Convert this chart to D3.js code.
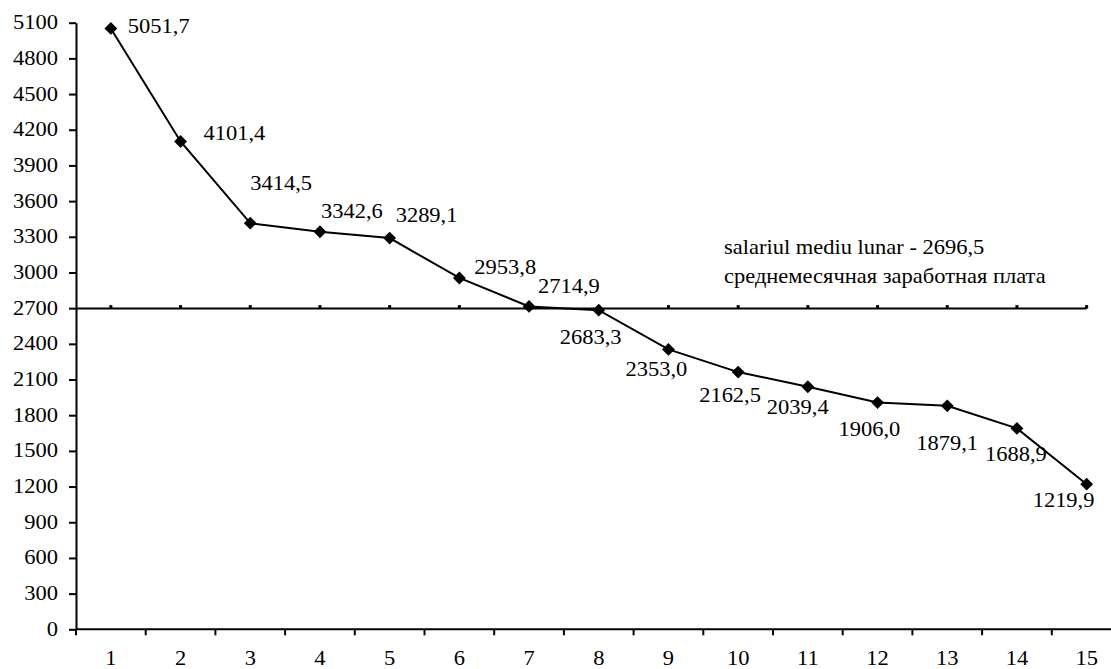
<!DOCTYPE html>
<html><head><meta charset="utf-8">
<script src="https://cdn.jsdelivr.net/npm/d3@7/dist/d3.min.js"></script>
<style>
html,body{margin:0;padding:0;background:#fff;}
</style></head>
<body><svg id="c" width="1111" height="669"></svg>
<script>
const categories = [1,2,3,4,5,6,7,8,9,10,11,12,13,14,15];
const values = [5051.7,4101.4,3414.5,3342.6,3289.1,2953.8,2714.9,2683.3,2353.0,2162.5,2039.4,1906.0,1879.1,1688.9,1219.9];
const yTicks = [0,300,600,900,1200,1500,1800,2100,2400,2700,3000,3300,3600,3900,4200,4500,4800,5100];
const averageValue = 2696.5;
const averageLabels = ["salariul mediu lunar - 2696,5", "среднемесячная заработная плата"];
// label offsets (dx, dy) from each marker to its value label
const labelOffsets = [[17,5],[23,-1.5],[0,-33],[1,-13.5],[6,-16.5],[15,-4],[9,-13],[-39,34],[-43,27],[-39,29.5],[-41,27.5],[-39,33.5],[-31,44],[-32,33],[-54,22.5]];

(function(){
const fmt = v => v.toFixed(1).replace('.', ',');
const FS = 20;
const FONT = "Liberation Serif, Tinos, Times New Roman, Times, Nimbus Roman, Nimbus Roman No9 L, FreeSerif, DejaVu Serif, Noto Serif, serif";
const svg = d3.select('#c');
// horizontal stretch so the text widths match the reference
const probe = svg.append('text').style('font-family', FONT).attr('font-size', FS).text('3000');
const SX = 45 / probe.node().getComputedTextLength();
probe.remove();

const mLeft = 76, yBottom = 629.3, yTop = 22.7;
const x = d3.scaleBand().domain(categories).range([mLeft, 1121.5]);
const y = d3.scaleLinear().domain([0,5100]).range([yBottom, yTop]);
const cx = d => x(d) + x.bandwidth()/2;

function txt(g, s, px, py, anchor){
  return g.append('text').attr('transform', `translate(${px},${py}) scale(${SX},1)`)
    .attr('text-anchor', anchor).attr('font-size', FS).style('font-family', FONT)
    .attr('fill', '#000').text(s);
}

// y axis
const ya = svg.append('g').attr('transform', `translate(${mLeft},0)`)
  .call(d3.axisLeft(y).tickValues(yTicks).tickSize(7).tickSizeOuter(0).tickFormat(''));
ya.selectAll('path,line').attr('stroke','#000').attr('stroke-width',2);
yTicks.forEach(t => txt(svg, String(t), 58, y(t)+6.5, 'end'));

// x axis
const xa = svg.append('g').attr('transform', `translate(0,${yBottom})`);
xa.append('line').attr('x1', mLeft).attr('x2', 1121.5).attr('y1',0).attr('y2',0).attr('stroke','#000').attr('stroke-width',2);
d3.range(categories.length+1).forEach(i => {
  const px = mLeft + i * x.step();
  xa.append('line').attr('x1',px).attr('x2',px).attr('y1',0).attr('y2',6).attr('stroke','#000').attr('stroke-width',2);
});
categories.forEach(c => txt(svg, String(c), cx(c), 665, 'middle'));

// average line
const ay = y(averageValue);
svg.append('line').attr('x1', mLeft).attr('x2', cx(categories[categories.length-1]))
  .attr('y1', ay).attr('y2', ay).attr('stroke','#000').attr('stroke-width',2);
svg.selectAll('.avgdot').data(categories).enter().append('rect')
  .attr('x', d => cx(d)-1.5).attr('y', ay-3.5).attr('width',3).attr('height',3.5).attr('fill','#000');
txt(svg, averageLabels[0], 724, 254, 'start');
txt(svg, averageLabels[1], 724, 282.7, 'start');

// data line
const line = d3.line().x((d,i) => cx(categories[i])).y(d => y(d));
svg.append('path').datum(values).attr('d', line).attr('fill','none').attr('stroke','#000').attr('stroke-width',2);
const diamond = d3.symbol().type(d3.symbolDiamond2).size(105);
svg.selectAll('.mk').data(values).enter().append('path')
  .attr('d', diamond).attr('transform', (d,i) => `translate(${cx(categories[i])},${y(d)})`).attr('fill','#000');
values.forEach((v,i) => {
  txt(svg, fmt(v), cx(categories[i]) + labelOffsets[i][0], y(v) + labelOffsets[i][1], 'start');
});
})();
</script></body></html>
